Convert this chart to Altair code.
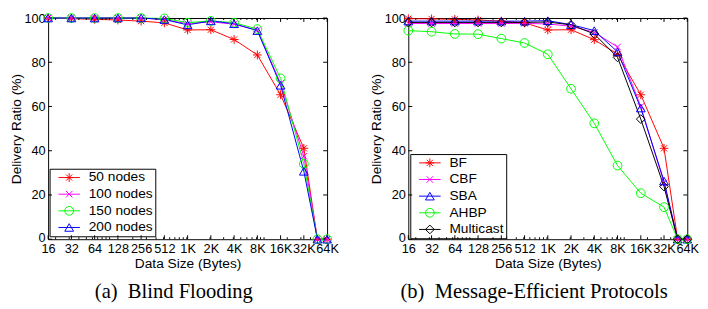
import altair as alt
import pandas as pd

# ---- data ----
sizes = [16, 32, 64, 128, 256, 512, 1024, 2048, 4096, 8192, 16384, 32768, 49152, 65536]
x_major = [16, 32, 64, 128, 256, 512, 1024, 2048, 4096, 8192, 16384, 32768, 65536]
x_minor = [20, 30, 40, 50, 60, 70, 80, 90, 100, 200, 300, 400, 500, 600, 700, 800, 900,
           1000, 2000, 3000, 4000, 5000, 6000, 7000, 8000, 9000, 10000, 20000, 30000,
           40000, 50000, 60000]
y_major = [0, 20, 40, 60, 80, 100]

blind_names = ["50 nodes", "100 nodes", "150 nodes", "200 nodes"]
nodes50 = [100, 99.7, 99.4, 99.1, 98.6, 97.8, 94.6, 94.7, 90.3, 83.3, 65.3, 41.1, 0, 0]
nodes100 = [100, 100, 100, 100, 100, 99.3, 97.4, 98.3, 97.2, 94.5, 70.5, 37.5, 0, 0]
nodes150 = [100, 100, 100, 100, 100, 99.8, 97.9, 98.7, 97.9, 95.0, 72.7, 34.0, 0, 0]
nodes200 = [100, 100, 100, 100, 100, 99.3, 96.9, 98.7, 97.4, 94.3, 69.6, 30.7, 0, 0]

proto_names = ["BF", "CBF", "SBA", "AHBP", "Multicast"]
bf = [99.7, 99.6, 99.4, 99.1, 98.6, 97.8, 94.6, 94.7, 90.2, 83.6, 65.3, 41.1, 0, 0]
cbf = [97.5, 97.5, 97.5, 97.5, 97.5, 97.6, 97.3, 96.3, 93.5, 86.9, 60.0, 25.5, 0, 0]
sba = [98.6, 98.6, 98.6, 98.6, 98.6, 98.6, 98.8, 97.0, 94.3, 84.7, 59.3, 26.3, 0, 0]
ahbp = [94.3, 93.8, 92.8, 92.7, 90.7, 88.7, 83.6, 68.0, 52.4, 33.3, 20.8, 14.5, 0, 0]
multicast = [98.0, 98.0, 98.0, 98.0, 98.0, 98.0, 98.2, 96.9, 92.8, 82.2, 54.3, 23.8, 0, 0]

blind_colors = ["#FF0000", "#FF00FF", "#00FF00", "#0000FF"]
proto_colors = ["#FF0000", "#FF00FF", "#0000FF", "#00FF00", "#000000"]
ASTER = "M-1,0L1,0M0,-1L0,1M-0.7,-0.7L0.7,0.7M-0.7,0.7L0.7,-0.7"
XMARK = "M-0.75,-0.75L0.75,0.75M-0.75,0.75L0.75,-0.75"
blind_shapes = [ASTER, XMARK, "circle", "triangle-up"]
proto_shapes = [ASTER, XMARK, "triangle-up", "circle", "diamond"]

W, H = 285, 226
FONT = "Liberation Sans"


def long_df(field, names, series):
    rows = []
    for name, vals in zip(names, series):
        for s, v in zip(sizes, vals):
            rows.append({"size": s, "ratio": v, field: name, field + "_l": name + " "})
    return pd.DataFrame(rows)


xscale = alt.Scale(type="log", base=2, domain=[16, 65536], nice=False, zero=False)
yscale = alt.Scale(domain=[0, 100], nice=False)

label_expr = "datum.value >= 1024 ? (datum.value / 1024) + 'K' : '' + datum.value"

x_axis = alt.Axis(values=x_major, labelExpr=label_expr, ticks=False,
                  domain=False, grid=False, labelFlush=False,
                  labelOverlap=False, labelPadding=3.5,
                  title="Data Size (Bytes)", titlePadding=1)
y_axis = alt.Axis(values=y_major, ticks=False, domain=False, grid=False,
                  labelFlush=True, labelFlushOffset=5,
                  labelPadding=3, title="Delivery Ratio (%)", titlePadding=1)


def panel(df, field, names, colors, shapes, caption, lx, ly):
    base = alt.Chart(df)
    x_enc = alt.X("size:Q", scale=xscale, axis=x_axis)
    y_enc = alt.Y("ratio:Q", scale=yscale, axis=y_axis)
    line_legend = alt.Legend(orient="none", legendX=lx, legendY=ly, title=None,
                             symbolType="M0,0H5.5", symbolSize=64,
                             symbolStrokeWidth=1, labelFont=FONT, labelFontSize=14,
                             labelColor="black", labelOffset=24, strokeColor="black",
                             padding=2, rowPadding=3, cornerRadius=0)
    pt_legend = alt.Legend(orient="none", legendX=lx + 11, legendY=ly, title=None,
                           symbolSize=80, symbolStrokeWidth=1, labelFont=FONT,
                           labelFontSize=14, labelExpr="''", labelOffset=24,
                           padding=2, rowPadding=3)
    lines = base.mark_line(strokeWidth=1).encode(
        x=x_enc, y=y_enc,
        stroke=alt.Stroke(f"{field}_l:N",
                          scale=alt.Scale(domain=[n + " " for n in names], range=colors),
                          legend=line_legend),
    )
    points = base.mark_point(filled=False, size=80, strokeWidth=1, opacity=1).encode(
        x=x_enc, y=y_enc,
        color=alt.Color(f"{field}:N", scale=alt.Scale(domain=names, range=colors),
                        legend=pt_legend),
        shape=alt.Shape(f"{field}:N", scale=alt.Scale(domain=names, range=shapes),
                        legend=pt_legend),
    )
    xmaj = pd.DataFrame({"size": x_major})
    xmin = pd.DataFrame({"size": x_minor})
    ymaj = pd.DataFrame({"ratio": y_major})
    tick_layers = [
        alt.Chart(xmaj).mark_rule(color="black", strokeWidth=1).encode(
            x=x_enc, y=alt.value(H), y2=alt.value(H - 4)),
        alt.Chart(xmaj).mark_rule(color="black", strokeWidth=1).encode(
            x=x_enc, y=alt.value(0), y2=alt.value(4)),
        alt.Chart(xmin).mark_rule(color="black", strokeWidth=1).encode(
            x=x_enc, y=alt.value(H), y2=alt.value(H - 2)),
        alt.Chart(xmin).mark_rule(color="black", strokeWidth=1).encode(
            x=x_enc, y=alt.value(0), y2=alt.value(2)),
        alt.Chart(ymaj).mark_rule(color="black", strokeWidth=1).encode(
            y=y_enc, x=alt.value(0), x2=alt.value(4)),
        alt.Chart(ymaj).mark_rule(color="black", strokeWidth=1).encode(
            y=y_enc, x=alt.value(W), x2=alt.value(W - 4)),
    ]
    return alt.layer(lines, *tick_layers, points).properties(
        width=W, height=H,
        title=alt.TitleParams(caption, orient="bottom", anchor="middle", frame="bounds",
                              font="Liberation Serif", fontSize=21, fontWeight="normal",
                              color="black", offset=12),
    )


left = panel(long_df("blind", blind_names, [nodes50, nodes100, nodes150, nodes200]),
             "blind", blind_names, blind_colors, blind_shapes,
             "(a)\u2002Blind Flooding", 1.5, 154)
right = panel(long_df("proto", proto_names, [bf, cbf, sba, ahbp, multicast]),
              "proto", proto_names, proto_colors, proto_shapes,
              "(b)\u2002Message-Efficient Protocols", 2, 139)

chart = alt.hconcat(left, right, spacing=29).resolve_scale(
    color="independent", shape="independent", stroke="independent"
).properties(padding=0, background="white").configure_view(
    stroke="black", strokeWidth=1
).configure_axis(
    labelFont=FONT, labelFontSize=13, labelColor="black",
    titleFont=FONT, titleFontSize=14, titleFontWeight="normal", titleColor="black",
)

chart.save("out.html", embed_options={"renderer": "svg", "actions": False})
